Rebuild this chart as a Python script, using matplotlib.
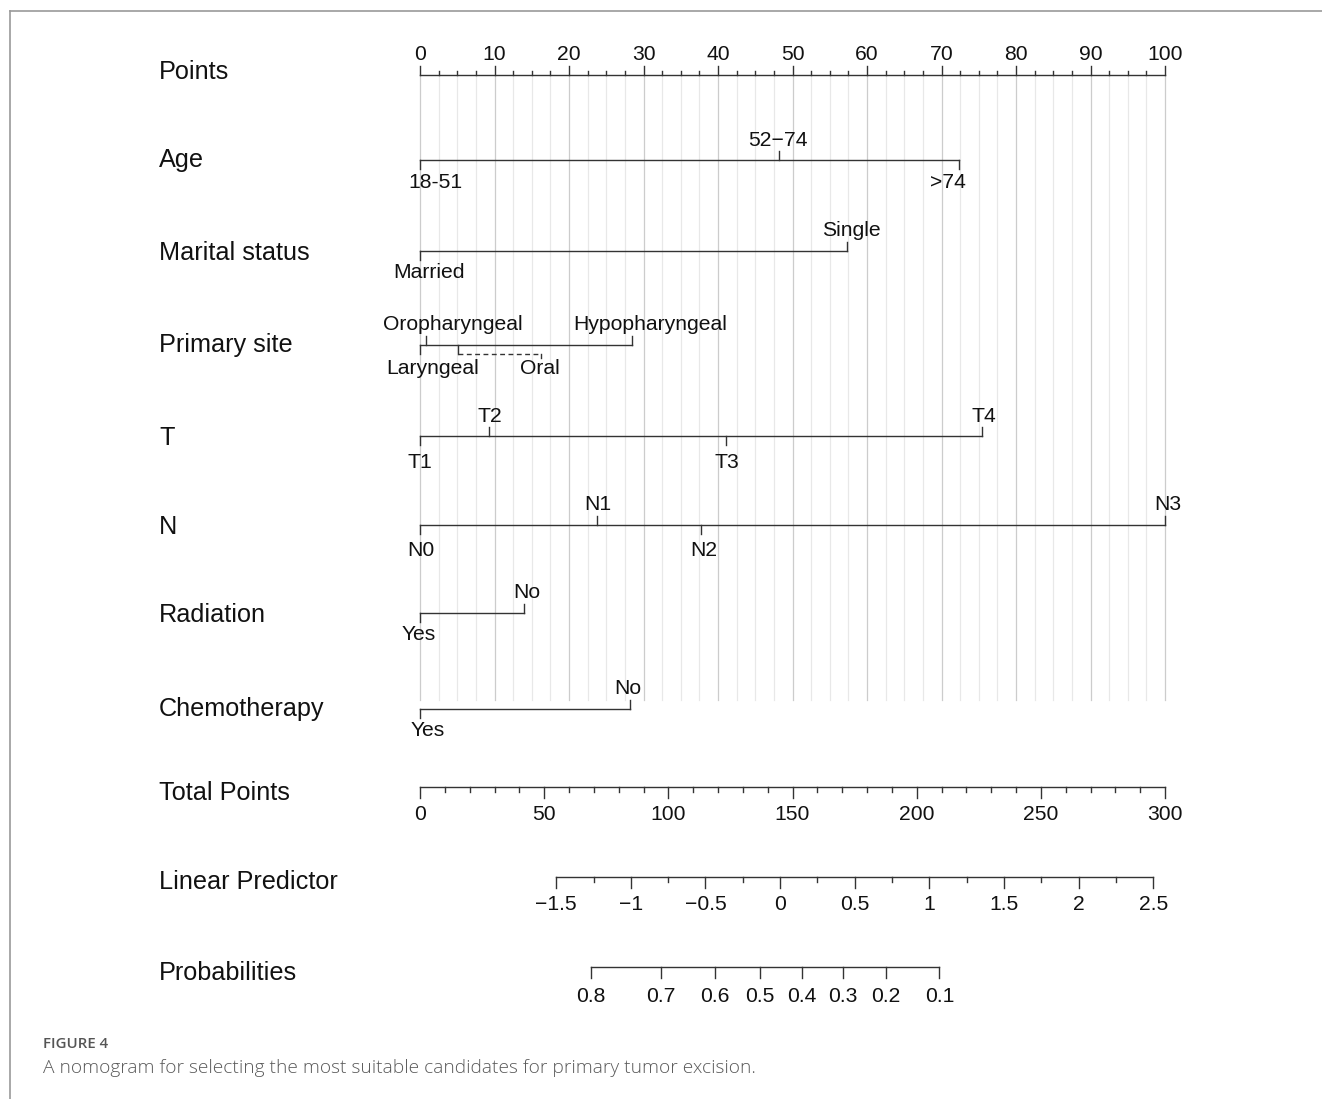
import numpy as np
import matplotlib
matplotlib.use("Agg")
import matplotlib.pyplot as plt

# ---------------- data ----------------
points_ticks = list(range(0, 101, 10))

age_levels = ["18-51", "52\u221274", ">74"]
age_points = [0, 48.2, 72.4]

marital_levels = ["Married", "Single"]
marital_points = [0, 57.3]

site_levels = ["Laryngeal", "Oropharyngeal", "Oral", "Hypopharyngeal"]
site_points = [0, 0.8, 5.15, 28.5]

t_levels = ["T1", "T2", "T3", "T4"]
t_points = [0, 9.23, 41.07, 75.4]

n_levels = ["N0", "N1", "N2", "N3"]
n_points = [0, 23.7, 37.7, 100]

radiation_levels = ["Yes", "No"]
radiation_points = [0, 14.0]

chemo_levels = ["Yes", "No"]
chemo_points = [0, 28.2]

total_ticks = list(range(0, 301, 50))
lp_ticks = [-1.5, -1, -0.5, 0, 0.5, 1, 1.5, 2, 2.5]
lp_labels = ["\u22121.5", "\u22121", "\u22120.5", "0", "0.5", "1", "1.5", "2", "2.5"]
prob_ticks = [0.8, 0.7, 0.6, 0.5, 0.4, 0.3, 0.2, 0.1]

# model scale constants
LP_SLOPE = 0.01664      # linear predictor per total point
LP_CENTER = 145.0       # total points at linear predictor 0
CLOGLOG_SHIFT = -0.234  # log(-log p) = lp + shift

row_names = ["Points", "Age", "Marital status", "Primary site", "T", "N",
             "Radiation", "Chemotherapy", "Total Points", "Linear Predictor",
             "Probabilities"]

# ---------------- layout ----------------
W, H = 1322, 1099
X0, PX_PER_PT = 420.0, 7.45
row_y = [75, 160, 251, 345, 436, 525, 613, 709, 787, 877, 967]
name_dy = [-3, 0, 2, 0, 2, 2, 2, 0, 6, 5, 6]

FONT = ["Liberation Sans", "DejaVu Sans"]
INK = "#333333"
LW = 1.0
TICK_FS = 15.2

def px(dx):
    """horizontal pixel distance to points units"""
    return dx / PX_PER_PT

def tp_to_x(tp):
    return tp / 3.0

def lp_to_x(lp):
    return tp_to_x(LP_CENTER + lp / LP_SLOPE)

def prob_to_x(p):
    return lp_to_x(np.log(-np.log(p)) - CLOGLOG_SHIFT)

fig = plt.figure(figsize=(W / 100, H / 100), dpi=100)
ax = fig.add_axes([0, 0, 1, 1])
ax.set_xlim(px(-X0), px(W - X0))
ax.set_ylim(H, 0)
ax.axis("off")

# page frame
ax.plot([px(10 - X0), px(W - X0)], [10.5, 10.5], color="#9a9a9a", lw=1.2)
ax.plot([px(10 - X0), px(10 - X0)], [10.5, H], color="#9a9a9a", lw=1.2)

# vertical reference grid
for v in np.arange(0, 100.01, 2.5):
    major = abs(v % 10) < 1e-9
    ax.plot([v, v], [row_y[0], 700], color="#cccccc" if major else "#e8e8e8",
            lw=0.9, zorder=0)

# row names
for name, y, dy in zip(row_names, row_y, name_dy):
    ax.text(px(159 - X0), y + dy, name, fontsize=18.2, family=FONT,
            ha="left", va="center", color="#111111")

# Points scale
y = row_y[0]
ax.plot([0, 100], [y, y], color=INK, lw=LW)
for v in np.arange(0, 100.01, 2.5):
    major = abs(v % 10) < 1e-9
    ax.plot([v, v], [y, y - (9 if major else 4.5)], color=INK, lw=LW)
for v in points_ticks:
    ax.text(v, y - 20, str(v), fontsize=TICK_FS, family=FONT,
            ha="center", va="center", color="#111111")

# categorical rows
def cat_row(y, pts, labels, sides, nudges, below=21, leader=None):
    ax.plot([min(pts), max(pts)], [y, y], color=INK, lw=LW)
    for i, (p, lab, s, nd) in enumerate(zip(pts, labels, sides, nudges)):
        if leader is not None and i == leader[0]:
            end = leader[1]
            ax.plot([p, p], [y, y + 9], color=INK, lw=LW)
            ax.plot([p, end], [y + 9, y + 9], color=INK, lw=LW,
                    linestyle=(0, (3.5, 2.5)))
            ax.plot([end, end], [y + 9, y + 12.5], color=INK, lw=LW)
            ax.text(end + px(nd), y + 24, lab, fontsize=TICK_FS, family=FONT,
                    ha="center", va="center", color="#111111")
            continue
        if s > 0:
            ax.plot([p, p], [y, y - 9], color=INK, lw=LW)
            ty = y - 20
        else:
            ax.plot([p, p], [y, y + 9], color=INK, lw=LW)
            ty = y + below
        ax.text(p + px(nd), ty, lab, fontsize=TICK_FS, family=FONT,
                ha="center", va="center", color="#111111")

cat_row(row_y[1], age_points, age_levels, [-1, 1, -1], [15, -1, -11], below=23)
cat_row(row_y[2], marital_points, marital_levels, [-1, 1], [9, 4], below=21)
cat_row(row_y[3], site_points, site_levels, [-1, 1, -1, 1], [13, 27, -2, 18],
        below=24, leader=(2, 16.3))
cat_row(row_y[4], t_points, t_levels, [-1, 1, -1, 1], [0, 1, 1, 2], below=26)
cat_row(row_y[5], n_points, n_levels, [-1, 1, -1, 1], [1, 1, 3, 3], below=25)
cat_row(row_y[6], radiation_points, radiation_levels, [-1, 1], [-1, 3], below=21)
cat_row(row_y[7], chemo_points, chemo_levels, [-1, 1], [8, -2], below=21)

# Total Points scale
y = row_y[8]
ax.plot([tp_to_x(0), tp_to_x(300)], [y, y], color=INK, lw=LW)
for v in range(0, 301, 10):
    major = v % 50 == 0
    ax.plot([tp_to_x(v)] * 2, [y, y + (11 if major else 4.5)], color=INK, lw=LW)
for v in total_ticks:
    ax.text(tp_to_x(v), y + 27, str(v), fontsize=TICK_FS, family=FONT,
            ha="center", va="center", color="#111111")

# Linear Predictor scale
y = row_y[9]
ax.plot([lp_to_x(lp_ticks[0]), lp_to_x(lp_ticks[-1])], [y, y], color=INK, lw=LW)
for v in np.arange(lp_ticks[0], lp_ticks[-1] + 0.01, 0.25):
    major = abs((v * 2) - round(v * 2)) < 1e-9
    ax.plot([lp_to_x(v)] * 2, [y, y + (11 if major else 5)], color=INK, lw=LW)
for v, lab in zip(lp_ticks, lp_labels):
    ax.text(lp_to_x(v), y + 27, lab, fontsize=TICK_FS, family=FONT,
            ha="center", va="center", color="#111111")

# Probabilities scale
y = row_y[10]
ax.plot([prob_to_x(prob_ticks[0]), prob_to_x(prob_ticks[-1])], [y, y],
        color=INK, lw=LW)
for v in prob_ticks:
    ax.plot([prob_to_x(v)] * 2, [y, y + 11], color=INK, lw=LW)
    ax.text(prob_to_x(v), y + 29, f"{v:.1f}", fontsize=TICK_FS, family=FONT,
            ha="center", va="center", color="#111111")

# caption
ax.text(px(43 - X0), 1044, "FIGURE 4", fontsize=10.8, family=["Open Sans", "DejaVu Sans"],
        ha="left", va="center", color="#555555", fontweight="semibold")
ax.text(px(43 - X0), 1068,
        "A nomogram for selecting the most suitable candidates for primary tumor excision.",
        fontsize=13.75, family=["Open Sans", "DejaVu Sans"], ha="left", va="center",
        color="#5a5a5a", fontweight="light")

fig.savefig("out.png", dpi=100)
